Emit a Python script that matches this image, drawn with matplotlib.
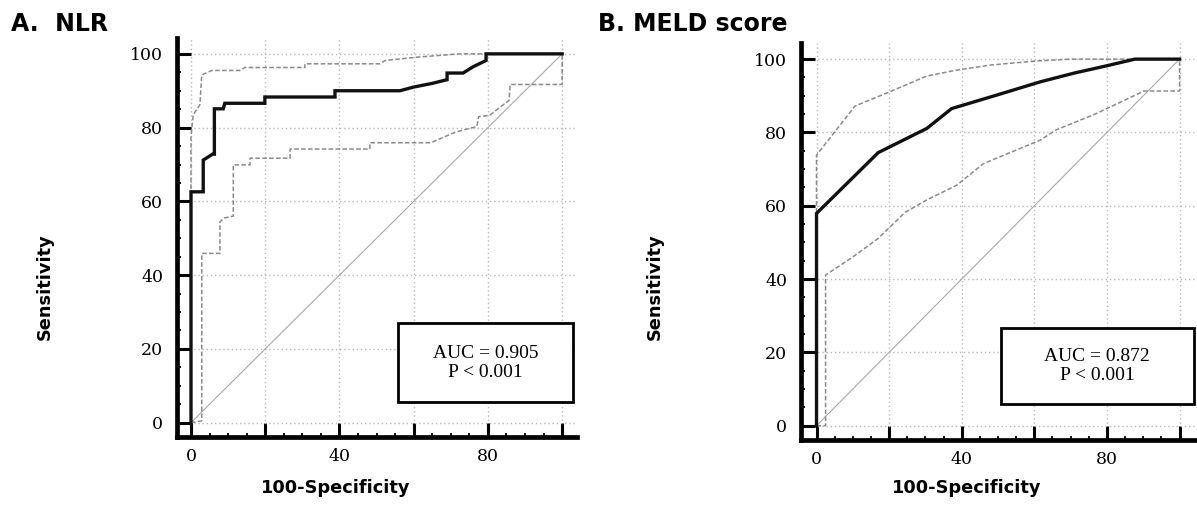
import matplotlib
matplotlib.use("Agg")
import matplotlib.pyplot as plt
from matplotlib.patches import Rectangle
from matplotlib.ticker import MultipleLocator

# ---- data (100-Specificity, Sensitivity) ----
nlr_x = [0, 0, 3.3, 3.3, 5.8, 6.3, 6.3, 8.7, 9.1, 19.9, 19.9, 38.8, 38.8, 56.3,
         60, 65, 69, 69, 73.3, 76, 79.5, 79.5, 100]
nlr_y = [0, 62.6, 62.6, 71.2, 72.8, 72.8, 85.1, 85.1, 86.6, 86.6, 88.3, 88.3, 90.0, 90.0,
         91.0, 92.0, 93.0, 94.8, 94.8, 96.5, 98.2, 100, 100]
nlr_up_x = [0, 0, 0.6, 2.4, 2.9, 5.6, 13.2, 14.5, 30.7, 30.7, 50.9, 52.3, 60.8, 66, 72.3, 100]
nlr_up_y = [0, 77.6, 83.5, 86.2, 94.3, 95.5, 95.5, 96.3, 96.3, 97.3, 97.3, 98.2, 99.1, 99.5, 100, 100]
nlr_lo_x = [0, 2.9, 2.9, 7.8, 7.8, 9, 11.4, 11.4, 15.9, 15.9, 26.7, 26.7, 48.2, 48.2,
            64.6, 71.3, 77, 77.5, 80.4, 85.7, 86, 100, 100]
nlr_lo_y = [0, 0.5, 45.9, 45.9, 54.5, 55.5, 56, 69.9, 69.9, 71.7, 71.7, 74.2, 74.2, 75.9,
            75.9, 78.8, 80.3, 83, 83.3, 87.4, 91.7, 91.7, 100]

meld_x = [0, 0, 17, 30.4, 37.2, 50, 61.6, 71, 80, 87.7, 100]
meld_y = [0, 57.9, 74.5, 81.1, 86.5, 90.3, 93.8, 96.2, 98.2, 100, 100]
meld_up_x = [0, 0, 10.6, 20.2, 30.4, 38.6, 48, 60.7, 70, 100]
meld_up_y = [0, 73.8, 87.2, 91.1, 95.4, 97.0, 98.4, 99.5, 100, 100]
meld_lo_x = [0, 2.5, 2.5, 10.1, 17, 24.4, 30.4, 38.6, 46, 61.6, 66, 76.5, 90.2, 100, 100]
meld_lo_y = [0, 0, 41.1, 46.1, 51.1, 58.2, 61.6, 65.6, 71.5, 77.9, 80.7, 84.9, 91.3, 91.3, 100]

diag = [0, 100]

x_ticks = [0, 20, 40, 60, 80, 100]
x_tick_labels = ["0", "", "40", "", "80", ""]
y_ticks = [0, 20, 40, 60, 80, 100]
y_tick_labels = ["0", "20", "40", "60", "80", "100"]

panels = [
    ("A.  NLR", "AUC = 0.905\nP < 0.001", nlr_x, nlr_y, nlr_up_x, nlr_up_y, nlr_lo_x, nlr_lo_y),
    ("B. MELD score", "AUC = 0.872\nP < 0.001", meld_x, meld_y, meld_up_x, meld_up_y, meld_lo_x, meld_lo_y),
]

W, H = 1197, 505
fig = plt.figure(figsize=(W / 100, H / 100), dpi=100)

# pixel geometry per panel: axes left,right,top,bottom ; xlim ; ylim ; box ; label pos
geo = [
    dict(ax=(177, 577, 38, 437), xlim=(-3.77, 104.0), ylim=(-3.88, 104.3),
         box=(55.9, 5.5, 46.9, 21.4), title=(11, 24), ylab=(45, 287), xlab=(336, 488)),
    dict(ax=(801, 1197, 43, 440), xlim=(-4.27, 104.8), ylim=(-3.9, 104.4),
         box=(50.7, 6.05, 53.2, 20.55), title=(598, 24), ylab=(655, 287), xlab=(967, 488)),
]

grey = "#8a8a8a"

for (title, auc, mx, my, ux, uy, lx, ly), g in zip(panels, geo):
    l, r, t, b = g["ax"]
    ax = fig.add_axes([l / W, 1 - b / H, (r - l) / W, (b - t) / H])
    ax.set_xlim(*g["xlim"])
    ax.set_ylim(*g["ylim"])

    ax.plot(diag, diag, color="#a8a8a8", lw=0.8, zorder=2)
    ax.plot(ux, uy, color=grey, lw=1.1, ls=(0, (3, 1.5)), zorder=3)
    ax.plot(lx, ly, color=grey, lw=1.1, ls=(0, (3, 1.5)), zorder=3)
    ax.plot(mx, my, color="#111111", lw=2.4, zorder=4, solid_joinstyle="miter")

    bx, by, bw, bh = g["box"]
    ax.add_patch(Rectangle((bx, by), bw, bh, facecolor="white", edgecolor="black",
                           lw=2.0, zorder=5, clip_on=False))
    ax.text(bx + bw / 2, by + bh / 2, auc, ha="center", va="center",
            family="Liberation Serif", fontsize=14, linespacing=1.15, zorder=6)

    ax.set_xticks(x_ticks)
    ax.set_xticklabels(x_tick_labels)
    ax.set_yticks(y_ticks)
    ax.set_yticklabels(y_tick_labels)
    ax.xaxis.set_minor_locator(MultipleLocator(5))
    ax.yaxis.set_minor_locator(MultipleLocator(5))
    ax.tick_params(which="major", direction="in", length=10, width=2.2, color="black",
                   labelsize=12.5, pad=8)
    ax.tick_params(axis="y", which="major", pad=10)
    ax.tick_params(which="minor", direction="in", length=3, width=1.3, color="black")
    for lab in ax.get_xticklabels() + ax.get_yticklabels():
        lab.set_family("DejaVu Serif")

    ax.grid(which="major", ls=(0, (1, 2)), color="#b8b8b8", lw=1.0)
    ax.set_axisbelow(True)
    for s in ("top", "right"):
        ax.spines[s].set_visible(False)
    for s in ("left", "bottom"):
        ax.spines[s].set_linewidth(3.4)
        ax.spines[s].set_color("black")

    fig.text(g["title"][0] / W, 1 - g["title"][1] / H, title, ha="left", va="center",
             fontsize=17, fontweight="bold", family="DejaVu Sans")
    fig.text(g["ylab"][0] / W, 1 - g["ylab"][1] / H, "Sensitivity", rotation=90,
             ha="center", va="center", fontsize=12.8, fontweight="bold", family="DejaVu Sans")
    fig.text(g["xlab"][0] / W, 1 - g["xlab"][1] / H, "100-Specificity",
             ha="center", va="center", fontsize=12.8, fontweight="bold", family="DejaVu Sans")

fig.savefig("out.png", dpi=100)
